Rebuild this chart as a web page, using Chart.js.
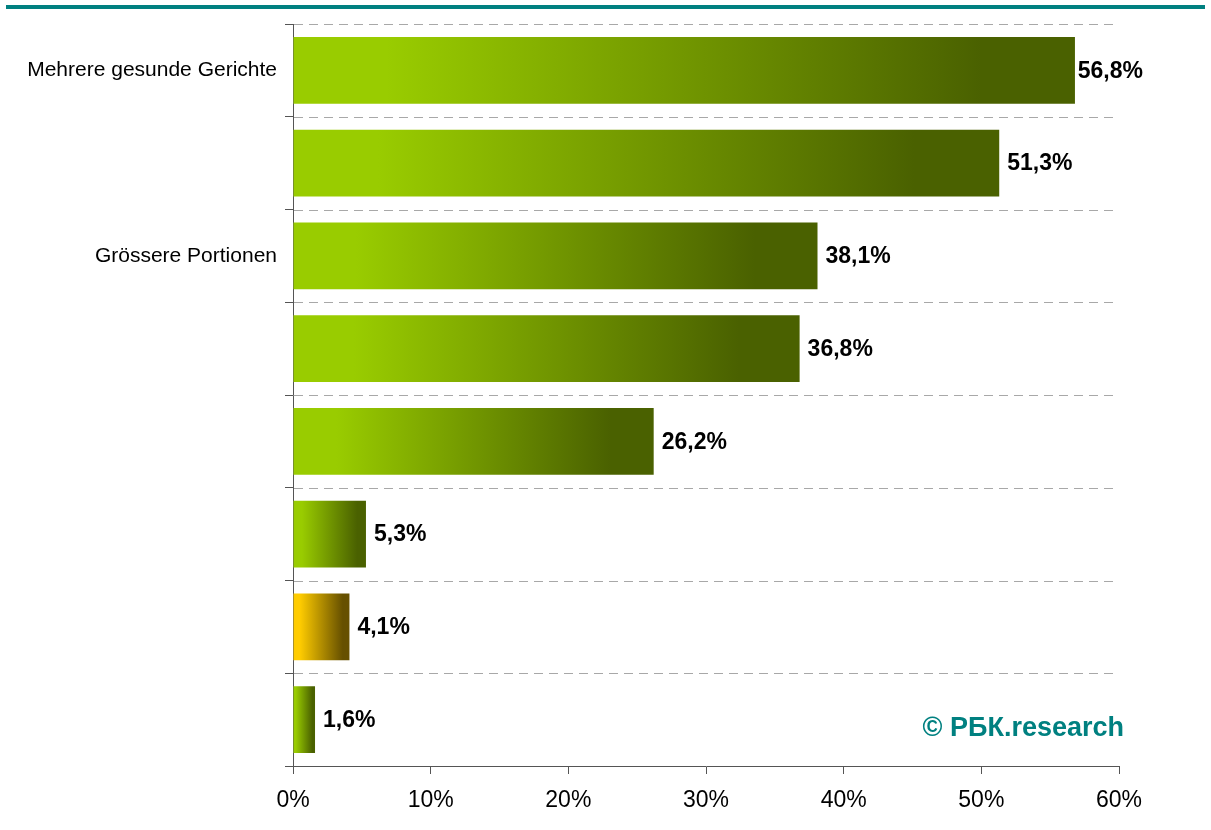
<!DOCTYPE html>
<html>
<head>
<meta charset="utf-8">
<script src="https://cdn.jsdelivr.net/npm/chart.js@4"></script>
<style>
    html, body { margin: 0; padding: 0; background: #fff; }
    #wrap { position: relative; width: 1211px; height: 830px; }
    #topLine { position: absolute; left: 6px; top: 5px; width: 1199px; height: 4px; background: #008080; }
</style>
</head>
<body>
<div id="wrap">
    <div id="topLine"></div>
    <canvas id="chart" width="1211" height="830"></canvas>
</div>
<script>
const categories = ['Mehrere gesunde Gerichte', '', 'Grössere Portionen', '', '', '', '', ''];
const values = [56.8, 51.3, 38.1, 36.8, 26.2, 5.3, 4.1, 1.6];
const xTicks = [0, 10, 20, 30, 40, 50, 60];
// start / end colour of each bar's gradient
const barStart = ['#99cc00', '#99cc00', '#99cc00', '#99cc00', '#99cc00', '#99cc00', '#ffcc00', '#99cc00'];
const barEnd = ['#4a6100', '#4a6100', '#4a6100', '#4a6100', '#4a6100', '#4a6100', '#665000', '#4a6100'];
const watermark = '© РБК.research';

const fmt = v => v.toFixed(1).replace('.', ',') + '%';

function barGradient(context) {
    const chart = context.chart;
    if (!chart.chartArea || !chart.scales.x) return barStart[context.dataIndex];
    const x0 = chart.scales.x.getPixelForValue(0);
    const x1 = chart.scales.x.getPixelForValue(context.raw);
    if (x1 - x0 < 1) return barStart[context.dataIndex];
    const g = chart.ctx.createLinearGradient(x0, 0, x1, 0);
    g.addColorStop(0, barStart[context.dataIndex]);
    g.addColorStop(0.12, barStart[context.dataIndex]);
    g.addColorStop(0.88, barEnd[context.dataIndex]);
    g.addColorStop(1, barEnd[context.dataIndex]);
    return g;
}

// dashed separators between categories
const dashedGrid = {
    id: 'dashedGrid',
    beforeDatasetsDraw(chart) {
        const { ctx, chartArea, scales } = chart;
        ctx.save();
        ctx.strokeStyle = '#a8a8a8';
        ctx.lineWidth = 1;
        ctx.setLineDash([9, 6]);
        for (let i = 0; i < categories.length; i++) {
            const y = Math.round(scales.y.getPixelForValue(i - 0.5)) + 0.5;
            ctx.beginPath();
            ctx.moveTo(chartArea.left + 1, y);
            ctx.lineTo(chartArea.right, y);
            ctx.stroke();
        }
        ctx.restore();
    }
};

// value labels and copyright note
const labelsPlugin = {
    id: 'labelsPlugin',
    afterDatasetsDraw(chart) {
        const { ctx, chartArea } = chart;
        const meta = chart.getDatasetMeta(0);
        ctx.save();
        ctx.font = 'bold 23px "Liberation Sans", Arial, sans-serif';
        ctx.fillStyle = '#000';
        ctx.textBaseline = 'middle';
        ctx.textAlign = 'left';
        meta.data.forEach((bar, i) => {
            const txt = fmt(values[i]);
            let x = bar.x + 8;
            const w = ctx.measureText(txt).width;
            if (x + w > 1143) x = 1143 - w;
            ctx.fillText(txt, x, bar.y + 1);
        });
        ctx.font = 'bold 27px "Liberation Sans", Arial, sans-serif';
        ctx.fillStyle = '#008080';
        ctx.textAlign = 'right';
        ctx.textBaseline = 'alphabetic';
        ctx.fillText(watermark, chartArea.right + 5, 736);
        ctx.restore();
    }
};

new Chart(document.getElementById('chart').getContext('2d'), {
    type: 'bar',
    data: {
        labels: categories,
        datasets: [{
            data: values,
            backgroundColor: barGradient,
            borderWidth: 0,
            categoryPercentage: 0.72,
            barPercentage: 1
        }]
    },
    options: {
        indexAxis: 'y',
        responsive: false,
        animation: false,
        layout: { padding: { top: 24, right: 92, left: 0, bottom: 0 } },
        plugins: {
            legend: { display: false },
            tooltip: { enabled: false }
        },
        scales: {
            x: {
                min: 0,
                max: 60,
                afterBuildTicks: axis => { axis.ticks = xTicks.map(v => ({ value: v })); },
                afterFit: axis => { axis.height = 64; },
                grid: { drawOnChartArea: false, drawTicks: true, tickLength: 8, color: '#555', tickColor: '#555' },
                border: { color: '#555', width: 1 },
                ticks: {
                    padding: 13,
                    color: '#000',
                    font: { family: '"Liberation Sans", Arial, sans-serif', size: 23 },
                    callback: v => v + '%'
                }
            },
            y: {
                afterFit: axis => { axis.width = 293; },
                grid: { offset: true, drawOnChartArea: false, drawTicks: true, tickLength: 8, color: '#555', tickColor: '#555' },
                border: { color: '#555', width: 1 },
                ticks: {
                    padding: 8,
                    color: '#000',
                    autoSkip: false,
                    font: { family: '"Liberation Sans", Arial, sans-serif', size: 21 }
                }
            }
        }
    },
    plugins: [dashedGrid, labelsPlugin]
});
</script>
</body>
</html>
